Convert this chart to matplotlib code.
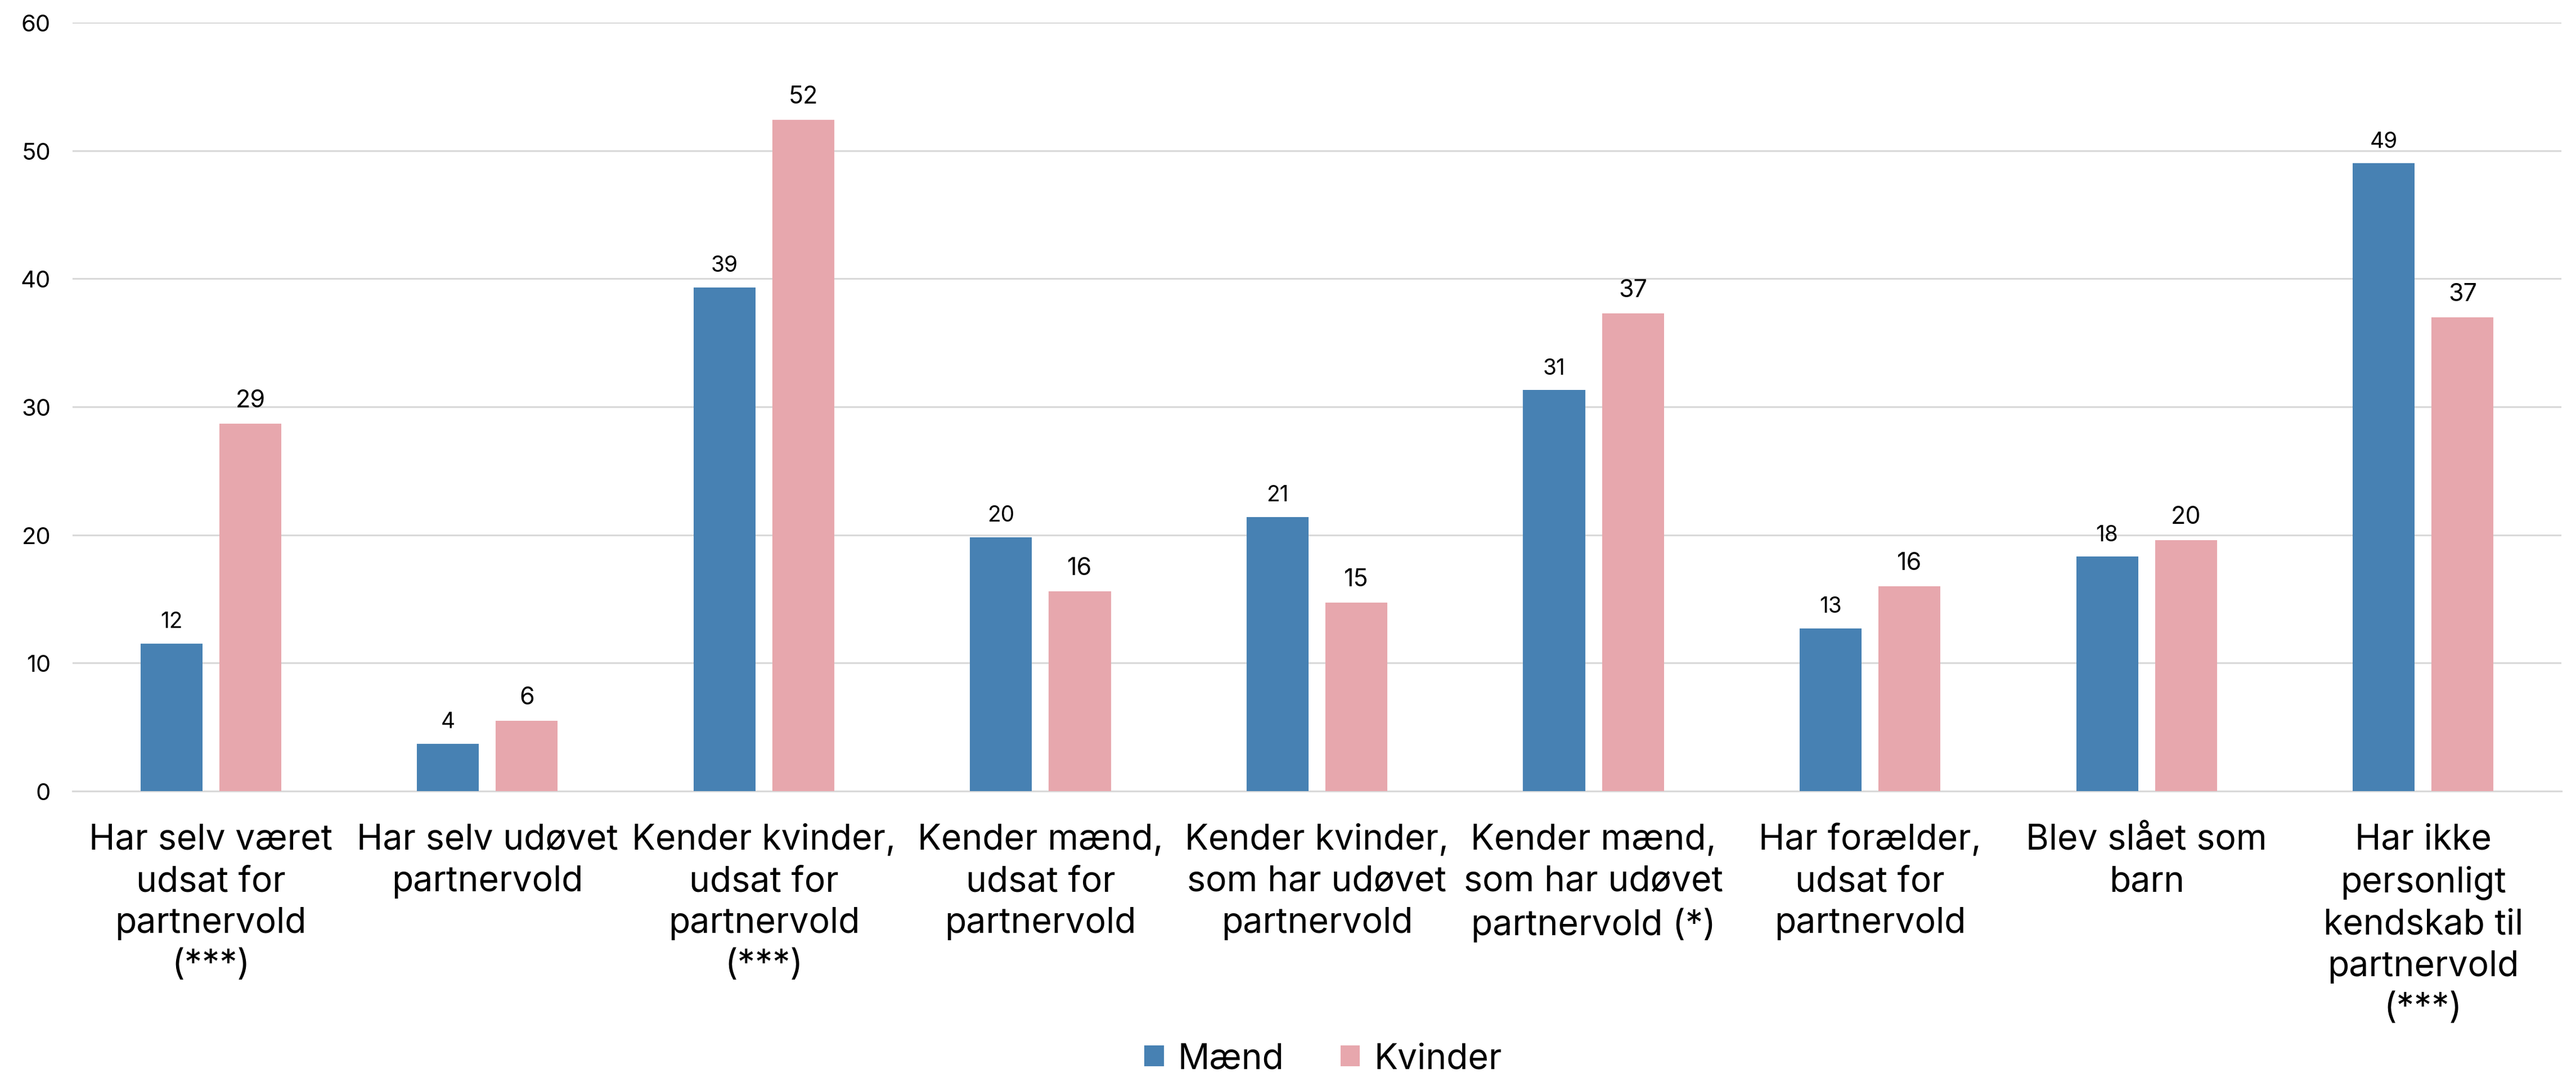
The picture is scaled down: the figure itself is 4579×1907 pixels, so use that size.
import matplotlib
matplotlib.use("Agg")
import matplotlib.pyplot as plt
import numpy as np
from matplotlib.patches import Patch

plt.rcParams['font.family'] = ['Inter', 'DejaVu Sans']

categories = [
    "Har selv været\nudsat for\npartnervold\n(***)",
    "Har selv udøvet\npartnervold",
    "Kender kvinder,\nudsat for\npartnervold\n(***)",
    "Kender mænd,\nudsat for\npartnervold",
    "Kender kvinder,\nsom har udøvet\npartnervold",
    "Kender mænd,\nsom har udøvet\npartnervold (*)",
    "Har forælder,\nudsat for\npartnervold",
    "Blev slået som\nbarn",
    "Har ikke\npersonligt\nkendskab til\npartnervold\n(***)",
]
series_names = ["Mænd", "Kvinder"]
maend = [11.5, 3.7, 39.3, 19.8, 21.4, 31.3, 12.7, 18.3, 49.0]
kvinder = [28.7, 5.5, 52.4, 15.6, 14.7, 37.3, 16.0, 19.6, 37.0]
yticks = [0, 10, 20, 30, 40, 50, 60]

colors = ["#4781b3", "#e7a7ad"]

W, H, DPI = 4579, 1908, 100
fig = plt.figure(figsize=(W / DPI, H / DPI), dpi=DPI)
ax = fig.add_axes([129 / W, 1 - 1407 / H, (4553 - 129) / W, (1407 - 41) / H])

x = np.arange(len(categories))
bw = 0.224
off = 0.1425
b1 = ax.bar(x - off, maend, bw, color=colors[0], zorder=3)
b2 = ax.bar(x + off, kvinder, bw, color=colors[1], zorder=3)

def lab(v):
    return str(int(v + 0.5))

for rect, v in zip(b1, maend):
    ax.annotate(lab(v), (rect.get_x() + rect.get_width() / 2, v),
                xytext=(0, 15), textcoords="offset points",
                ha="center", va="bottom", fontsize=28, color="black")
for rect, v in zip(b2, kvinder):
    ax.annotate(lab(v), (rect.get_x() + rect.get_width() / 2, v),
                xytext=(0, 15), textcoords="offset points",
                ha="center", va="bottom", fontsize=31, color="black")

ax.set_xlim(-0.5, len(categories) - 0.5)
ax.set_ylim(0, 60)
ax.set_yticks(yticks)
ax.set_yticklabels([str(t) for t in yticks], fontsize=30)
ax.set_xticks(x)
ax.set_xticklabels(categories, fontsize=45, linespacing=1.33)
ax.tick_params(axis="y", length=0, pad=28)
ax.tick_params(axis="x", length=0, pad=41)
ax.grid(axis="y", color="#d9d9d9", linewidth=2.2, zorder=0)
for s in ["top", "right", "left"]:
    ax.spines[s].set_visible(False)
ax.spines["bottom"].set_color("#d9d9d9")
ax.spines["bottom"].set_linewidth(2.2)

handles = [Patch(facecolor=c, edgecolor="none") for c in colors]
fig.legend(handles, series_names, loc="lower center",
           bbox_to_anchor=(2352 / W, -0.022), ncol=2, frameon=False,
           fontsize=45, handlelength=0.55, handleheight=0.55,
           handletextpad=0.4, columnspacing=1.6, borderaxespad=0.2)

fig.savefig("out.png", dpi=DPI, facecolor="white")
